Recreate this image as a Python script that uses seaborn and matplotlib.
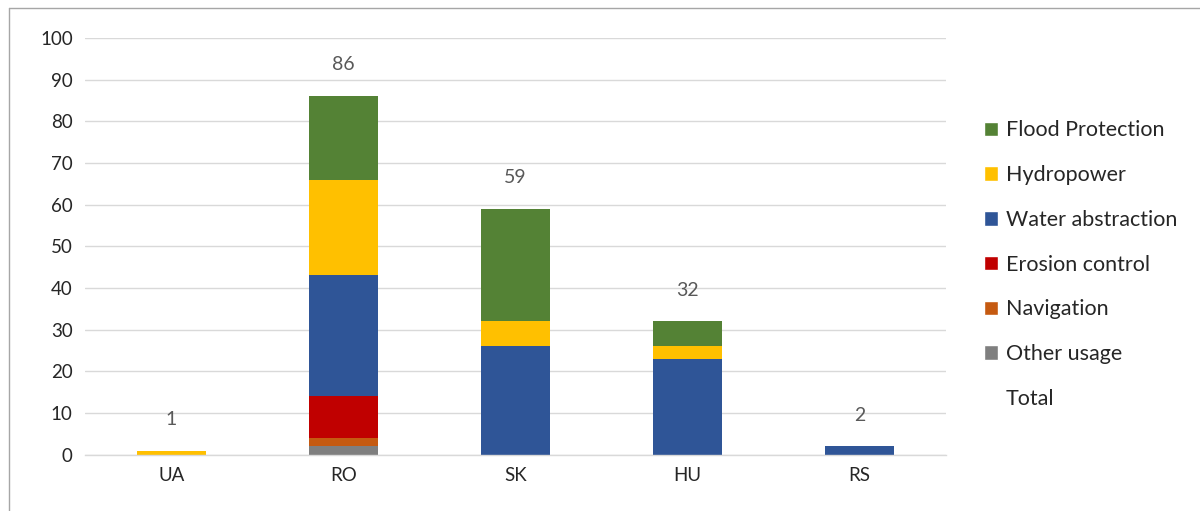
import matplotlib
matplotlib.use("Agg")
import matplotlib.pyplot as plt
import seaborn as sns
import numpy as np
import pandas as pd
from matplotlib.patches import Patch
from matplotlib.lines import Line2D

countries = ["UA", "RO", "SK", "HU", "RS"]
other_usage = [0, 2, 0, 0, 0]
navigation = [0, 2, 0, 0, 0]
erosion_control = [0, 10, 0, 0, 0]
water_abstraction = [0, 29, 26, 23, 2]
hydropower = [1, 23, 6, 3, 0]
flood_protection = [0, 20, 27, 6, 0]
totals = [1, 86, 59, 32, 2]

series = [
    ("Other usage", other_usage, "#7f7f7f"),
    ("Navigation", navigation, "#c55a11"),
    ("Erosion control", erosion_control, "#c00000"),
    ("Water abstraction", water_abstraction, "#2f5597"),
    ("Hydropower", hydropower, "#ffc000"),
    ("Flood Protection", flood_protection, "#548235"),
]

sns.set_theme(style="white")
plt.rcParams["font.family"] = ["Lato", "DejaVu Sans"]

fig = plt.figure(figsize=(12, 5.11), dpi=100)
ax = fig.add_axes([0.071, 0.11, 0.717, 0.816])

cum = np.zeros(len(countries))
cums = []
for name, vals, col in series:
    cum = cum + np.array(vals, dtype=float)
    cums.append((name, cum.copy(), col))
for name, c, col in reversed(cums):
    df = pd.DataFrame({"country": countries, "value": c})
    sns.barplot(data=df, x="country", y="value", color=col, width=0.4,
                saturation=1, ax=ax, linewidth=0, order=countries)

for i, t in enumerate(totals):
    ax.text(i, t + 7.5, str(t), ha="center", va="center", fontsize=14, color="#595959")

ax.set_ylim(0, 100)
ax.set_xlim(-0.5, 4.5)
ax.set_yticks(range(0, 101, 10))
ax.yaxis.grid(True, color="#d9d9d9", linewidth=1)
ax.set_axisbelow(True)
for s in ["top", "right", "left"]:
    ax.spines[s].set_visible(False)
ax.spines["bottom"].set_color("#d9d9d9")
ax.spines["bottom"].set_linewidth(1)
ax.set_xlabel("")
ax.set_ylabel("")
ax.tick_params(axis="both", length=0, labelsize=13.5, colors="#262626", pad=9)

handles = [Patch(facecolor=col, label=name) for name, vals, col in reversed(series)]
handles.append(Patch(facecolor="none", edgecolor="none", label="Total"))
leg = fig.legend(handles=handles, loc="center left", bbox_to_anchor=(0.804, 0.482),
                 frameon=False, fontsize=15.5, handlelength=0.65, handleheight=0.65,
                 labelspacing=1.15, handletextpad=0.35)
for t in leg.get_texts():
    t.set_color("#262626")

# outer frame: visible on top and left only (rest clipped in the reference)
top_y = 1 - 8.5 / 511
left_x = 8.5 / 1200
fig.add_artist(Line2D([left_x, 1.0], [top_y, top_y], transform=fig.transFigure,
                      color="#a6a6a6", linewidth=1))
fig.add_artist(Line2D([left_x, left_x], [0.0, top_y], transform=fig.transFigure,
                      color="#a6a6a6", linewidth=1))

fig.savefig("out.png", dpi=100)
